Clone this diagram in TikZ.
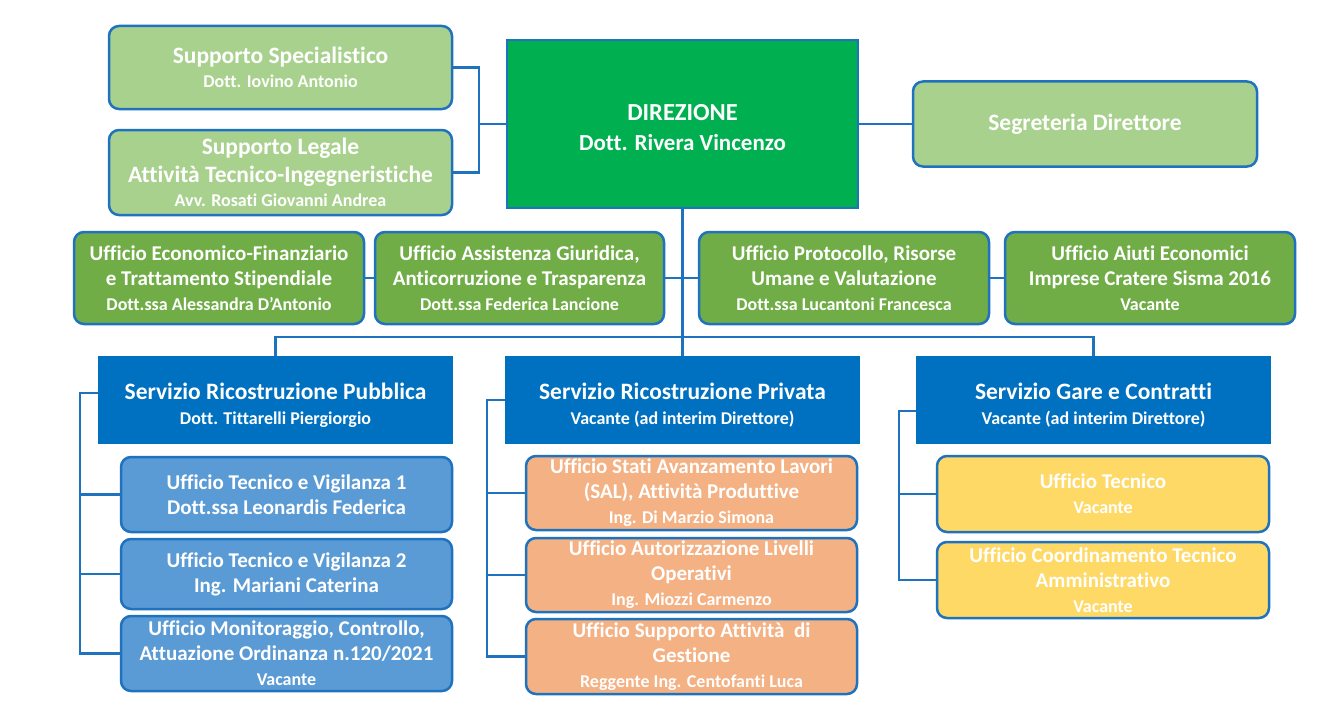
\documentclass[tikz,border=0pt]{standalone}
\usepackage{fontspec}
\setmainfont{Carlito}[Ligatures=NoCommon]
\definecolor{bord}{HTML}{1F72BE}
\definecolor{conn}{HTML}{1F72BE}
\definecolor{lgreen}{HTML}{A9D18E}
\definecolor{mgreen}{HTML}{70AD47}
\definecolor{dgreen}{HTML}{00B050}
\definecolor{hblue}{HTML}{0070C0}
\definecolor{lblue}{HTML}{5B9BD5}
\definecolor{orng}{HTML}{F4B183}
\definecolor{yllw}{HTML}{FFD966}
\newcommand\fT{\fontsize{23.5}{27}\selectfont}
\newcommand\fM{\fontsize{21}{25}\selectfont}
\newcommand\fS{\fontsize{18}{24}\selectfont}
\newcommand\fD{\fontsize{23}{30}\selectfont}
\newcommand\fH{\fontsize{24.5}{30}\selectfont}
\newcommand\hstrut{\rule{0pt}{27pt}}
\tikzset{
  rbox/.style={draw=bord, line width=2.5pt, rounded corners=10pt, text=white,
    font=\bfseries\fM, align=center, inner sep=0pt},
  sbox/.style={fill=hblue, text=white, font=\bfseries\fT, align=center, inner sep=0pt},
  cline/.style={draw=conn, line width=2.5pt},
}
\begin{document}
\begin{tikzpicture}[x=1pt,y=-1pt]
\useasboundingbox[fill=white] (0,0) rectangle (1344,709);
% top row
\node[rbox, fill=lgreen, minimum width=343, minimum height=83] (ss) at (280.5,67.5)
  {\fT Supporto Specialistico\\[-1pt]\fS Dott. Iovino Antonio};
\node[rbox, fill=lgreen, minimum width=343, minimum height=85] (sl) at (280.5,172.5)
  {\fT Supporto Legale\\[3pt]\fT Attività Tecnico-Ingegneristiche\\[-1pt]\fS Avv. Rosati Giovanni Andrea};
\node[draw=bord, line width=2pt, fill=dgreen, text=white, font=\bfseries\fH, align=center,
  inner sep=0pt, minimum width=351, minimum height=168] (dir) at (682.5,124)
  {\rule{0pt}{23pt}DIREZIONE\\\fD Dott. Rivera Vincenzo};
\node[rbox, fill=lgreen, minimum width=344, minimum height=85] (seg) at (1085,124)
  {\fT Segreteria Direttore};
% middle row
\node[rbox, fill=mgreen, minimum width=290, minimum height=92] (ef) at (219,278)
  {Ufficio Economico-Finanziario\\e Trattamento Stipendiale\\\fS Dott.ssa Alessandra D’Antonio};
\node[rbox, fill=mgreen, minimum width=289, minimum height=92] (ag) at (519.5,278)
  {Ufficio Assistenza Giuridica,\\Anticorruzione e Trasparenza\\\fS Dott.ssa Federica Lancione};
\node[rbox, fill=mgreen, minimum width=290, minimum height=92] (pr) at (844,278)
  {Ufficio Protocollo, Risorse\\Umane e Valutazione\\\fS Dott.ssa Lucantoni Francesca};
\node[rbox, fill=mgreen, minimum width=290, minimum height=92] (ae) at (1150,278)
  {Ufficio Aiuti Economici\\Imprese Cratere Sisma 2016\\\fS Vacante};
% services
\node[sbox, minimum width=355, minimum height=88] (spu) at (275.5,400)
  {\hstrut Servizio Ricostruzione Pubblica\\[-2pt]\fS Dott. Tittarelli Piergiorgio};
\node[sbox, minimum width=355, minimum height=88] (spr) at (682.5,400)
  {\hstrut Servizio Ricostruzione Privata\\[-2pt]\fS Vacante (ad interim Direttore)};
\node[sbox, minimum width=355, minimum height=88] (sg) at (1093.5,400)
  {\hstrut Servizio Gare e Contratti\\[-2pt]\fS Vacante (ad interim Direttore)};
% Pubblica offices
\node[rbox, fill=lblue, minimum width=331, minimum height=75] (t1) at (286.5,494.5)
  {Ufficio Tecnico e Vigilanza 1\\Dott.ssa Leonardis Federica};
\node[rbox, fill=lblue, minimum width=331, minimum height=70] (t2) at (286.5,574)
  {Ufficio Tecnico e Vigilanza 2\\Ing. Mariani Caterina};
\node[rbox, fill=lblue, minimum width=331, minimum height=75] (t3) at (286.5,653.5)
  {Ufficio Monitoraggio, Controllo,\\Attuazione Ordinanza n.120/2021\\\fS Vacante};
% Privata offices
\node[rbox, fill=orng, minimum width=331, minimum height=74] (o1) at (691.5,493)
  {Ufficio Stati Avanzamento Lavori\\(SAL), Attività Produttive\\\fS Ing. Di Marzio Simona};
\node[rbox, fill=orng, minimum width=331, minimum height=74] (o2) at (691.5,575)
  {Ufficio Autorizzazione Livelli\\Operativi\\\fS Ing. Miozzi Carmenzo};
\node[rbox, fill=orng, minimum width=331, minimum height=75] (o3) at (691.5,656.5)
  {Ufficio Supporto Attività\ \ di\\Gestione\\\fS Reggente Ing. Centofanti Luca};
% Gare offices
\node[rbox, fill=yllw, minimum width=332, minimum height=76] (g1) at (1103,494)
  {Ufficio Tecnico\\\fS Vacante};
\node[rbox, fill=yllw, minimum width=332, minimum height=76] (g2) at (1103,580)
  {Ufficio Coordinamento Tecnico\\Amministrativo\\\fS Vacante};
% connectors
\coordinate (b1) at (479,124);
\draw[cline] (ss.east) -| (b1) |- (sl.east);
\draw[cline] (b1) -- (dir.west);
\draw[cline] (dir.east) -- (seg.west);
\draw[cline] (dir.south) -- (spr.north);
\coordinate (bus) at (682.5,337);
\draw[cline] (spu.north) |- (bus) -| (sg.north);
\draw[cline] (ef.east) -- (ag.west);
\draw[cline] (ag.east) -- (pr.west);
\draw[cline] (pr.east) -- (ae.west);
\coordinate (c1) at (80,393);
\draw[cline] (spu.west |- c1) -- (c1) |- (t3.west);
\draw[cline] (c1 |- t1.west) -- (t1.west);
\draw[cline] (c1 |- t2.west) -- (t2.west);
\coordinate (c2) at (487,400);
\draw[cline] (spr.west) -- (c2) |- (o3.west);
\draw[cline] (c2 |- o1.west) -- (o1.west);
\draw[cline] (c2 |- o2.west) -- (o2.west);
\coordinate (c3) at (899,411);
\draw[cline] (sg.west |- c3) -- (c3) |- (g2.west);
\draw[cline] (c3 |- g1.west) -- (g1.west);
\end{tikzpicture}
\end{document}
